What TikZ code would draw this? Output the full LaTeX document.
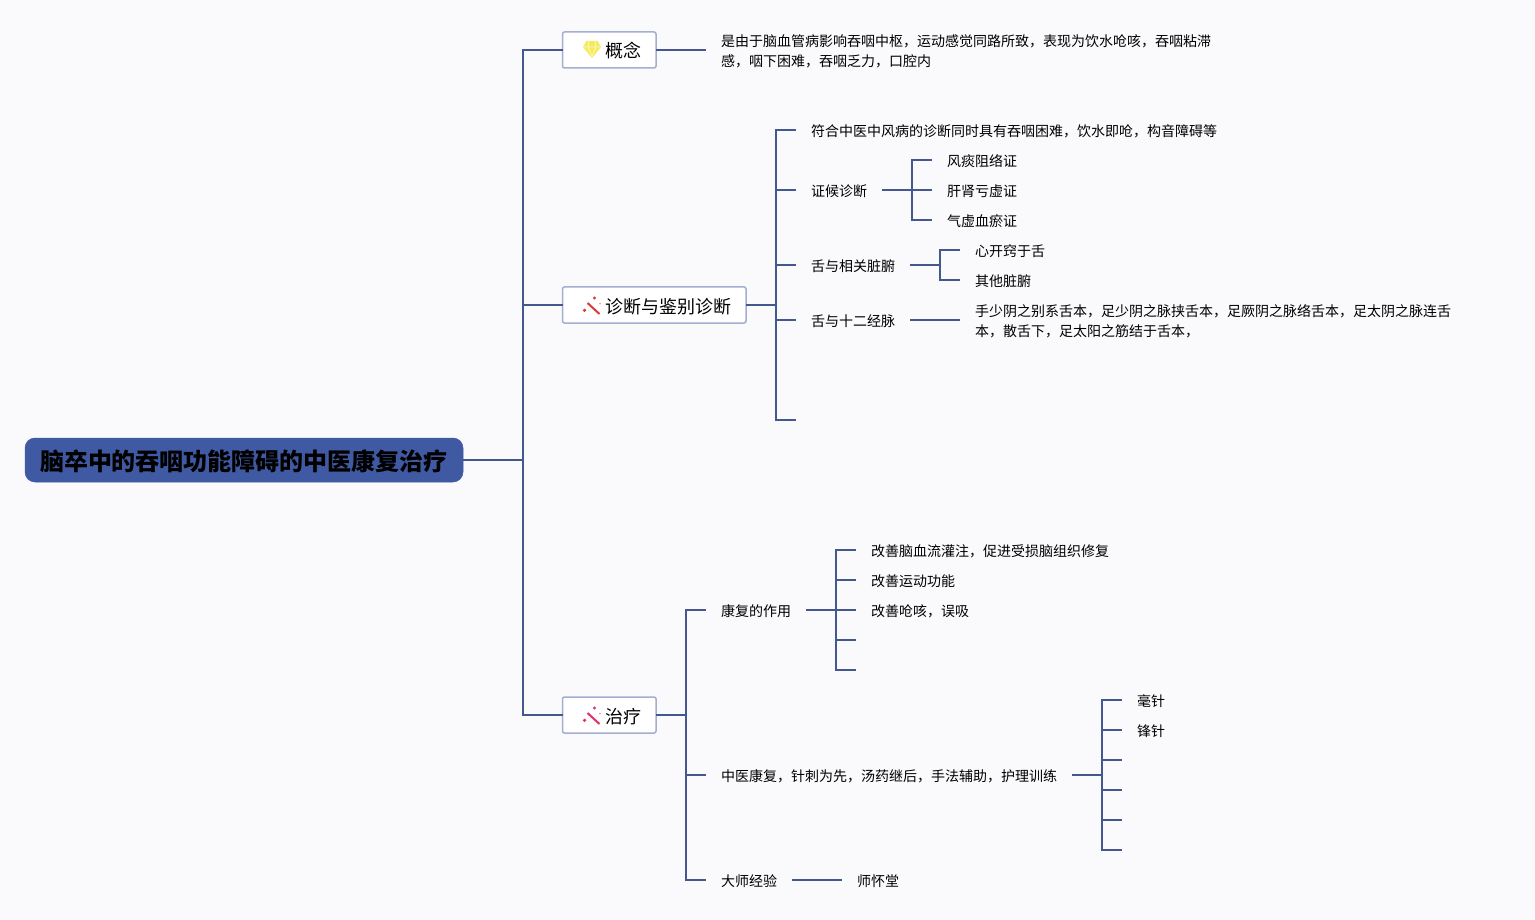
\documentclass[tikz,border=0pt]{standalone}
\usepackage{fontspec}
\setmainfont{Noto Sans CJK SC}
\usepackage{tikz}
\usetikzlibrary{positioning}
\usepackage{xcolor}
\definecolor{mapPaper}{HTML}{FAFAFC}
\definecolor{mapBlue}{HTML}{3F5AA3}
\definecolor{mapLine}{HTML}{42588F}
\definecolor{mapEdge}{HTML}{A3AED0}
\definecolor{gemYellow}{HTML}{F5EA5A}
\definecolor{gemLight}{HTML}{FBF6B4}
\definecolor{wandRed}{HTML}{D93A33}
\definecolor{wandPink}{HTML}{E62E66}
\newcommand{\gemicon}[1]{%
  \begin{scope}[shift={(#1.west)}]
    \fill[gemYellow] (24,-9) -- (35,-9) -- (38.5,-3) -- (29.5,8) -- (20.5,-3) -- cycle;
    \draw[gemLight, line width=1pt] (20.5,-3) -- (38.5,-3)
      (25.5,-3) -- (29.5,6) -- (33.5,-3) (26.5,-9) -- (25.5,-3) (32.5,-9) -- (33.5,-3);
  \end{scope}}
\newcommand{\wandicon}[2]{%
  \begin{scope}[shift={(#1.west)}, #2]
    \draw[line width=2pt] (25,-2) -- (37,9);
    \fill (22,5.3) circle (1.8);
    \fill (32,-7) circle (1.6);
    \fill[opacity=0.5] (37.5,-1.3) circle (1);
  \end{scope}}
\tikzset{
  rootbox/.style = {rounded corners=10pt, fill=mapBlue, draw=mapBlue, line width=0.5pt,
                    inner xsep=15pt, inner ysep=0pt, minimum height=44pt, outer sep=0pt,
                    execute at begin node={\rule[-3pt]{0pt}{27pt}},
                    font=\fontsize{24}{28}\selectfont\bfseries, text=black},
  topicbox/.style = {rounded corners=2pt, draw=mapEdge, line width=1.5pt, fill=white,
                    inner xsep=15pt, inner ysep=0pt, minimum height=36pt, outer sep=0pt,
                    execute at begin node={\rule[-2.5pt]{0pt}{21pt}},
                    font=\fontsize{18}{22}\selectfont},
  leaf/.style    = {inner xsep=15pt, inner ysep=0pt, outer sep=0pt, align=left,
                    execute at begin node={\rule[-2pt]{0pt}{16.5pt}},
                    font=\fontsize{14}{20}\selectfont},
  longleaf/.style = {leaf, execute at begin node={}, yshift=-2pt},
  link/.style    = {line width=2pt, draw=mapLine},
}

\begin{document}
\begin{tikzpicture}[x=1pt, y=-1pt]
  \useasboundingbox[fill=mapPaper] (0,0) rectangle (1535,920);

  \node[rootbox, anchor=west] (root) at (25,460) {脑卒中的吞咽功能障碍的中医康复治疗};
  \coordinate[right=60pt of root] (roothub);

  \node[topicbox, right=39.5pt of roothub, yshift=410pt] (concept) {\hspace*{27.5pt}概念};
  \node[topicbox, right=39.5pt of roothub, yshift=155pt] (diag) {\hspace*{27.5pt}诊断与鉴别诊断};
  \node[topicbox, right=39.5pt of roothub, yshift=-255pt] (treat) {\hspace*{27.5pt}治疗};
  \gemicon{concept}
  \wandicon{diag}{draw=wandRed, fill=wandRed}
  \wandicon{treat}{draw=wandPink, fill=wandPink}

  \draw[link] (root) -- (roothub);
  \foreach \t in {concept,diag,treat}
    \draw[link] (roothub) |- (\t);

  % concept
  \node[longleaf, right=50pt of concept] (def)
    {是由于脑血管病影响吞咽中枢，运动感觉同路所致，表现为饮水呛咳，吞咽粘滞\\感，咽下困难，吞咽乏力，口腔内};
  \draw[link] (concept) -- (concept -| def.west);

  % diagnosis
  \coordinate[right=30pt of diag] (diaghub);
  \node[leaf, right=20pt of diaghub, yshift=175pt] (d1) {符合中医中风病的诊断同时具有吞咽困难，饮水即呛，构音障碍等};
  \node[leaf, right=20pt of diaghub, yshift=115pt] (d2) {证候诊断};
  \node[leaf, right=20pt of diaghub, yshift=40pt] (d3) {舌与相关脏腑};
  \node[leaf, right=20pt of diaghub, yshift=-15pt] (d4) {舌与十二经脉};
  \coordinate[right=20pt of diaghub, yshift=-115pt] (d5);
  \draw[link] (diag) -- (diaghub);
  \foreach \t in {d1,d2,d3,d4,d5}
    \draw[link] (diaghub) |- (\t);

  \coordinate[right=30pt of d2] (d2hub);
  \node[leaf, right=50pt of d2, yshift=30pt] (s1) {风痰阻络证};
  \node[leaf, right=50pt of d2] (s2) {肝肾亏虚证};
  \node[leaf, right=50pt of d2, yshift=-30pt] (s3) {气虚血瘀证};
  \draw[link] (d2) -- (s2);
  \foreach \t in {s1,s3}
    \draw[link] (d2hub) |- (\t);

  \coordinate[right=30pt of d3] (d3hub);
  \node[leaf, right=50pt of d3, yshift=15pt] (t1) {心开窍于舌};
  \node[leaf, right=50pt of d3, yshift=-15pt] (t2) {其他脏腑};
  \draw[link] (d3) -- (d3hub);
  \foreach \t in {t1,t2}
    \draw[link] (d3hub) |- (\t);

  \node[longleaf, right=50pt of d4] (m1)
    {手少阴之别系舌本，足少阴之脉挟舌本，足厥阴之脉络舌本，足太阴之脉连舌\\本，散舌下，足太阳之筋结于舌本，};
  \draw[link] (d4) -- (d4 -| m1.west);

  % treatment
  \coordinate[right=30pt of treat] (treathub);
  \node[leaf, right=20pt of treathub, yshift=105pt] (r1) {康复的作用};
  \node[leaf, right=20pt of treathub, yshift=-60pt] (r2) {中医康复，针刺为先，汤药继后，手法辅助，护理训练};
  \node[leaf, right=20pt of treathub, yshift=-165pt] (r3) {大师经验};
  \draw[link] (treat) -- (treathub);
  \foreach \t in {r1,r2,r3}
    \draw[link] (treathub) |- (\t);

  \coordinate[right=30pt of r1] (r1hub);
  \node[leaf, right=50pt of r1, yshift=60pt] (e1) {改善脑血流灌注，促进受损脑组织修复};
  \node[leaf, right=50pt of r1, yshift=30pt] (e2) {改善运动功能};
  \node[leaf, right=50pt of r1] (e3) {改善呛咳，误吸};
  \coordinate[right=50pt of r1, yshift=-30pt] (e4);
  \coordinate[right=50pt of r1, yshift=-60pt] (e5);
  \draw[link] (r1) -- (e3);
  \foreach \t in {e1,e2,e4,e5}
    \draw[link] (r1hub) |- (\t);

  \coordinate[right=30pt of r2] (r2hub);
  \node[leaf, right=50pt of r2, yshift=75pt] (n1) {毫针};
  \node[leaf, right=50pt of r2, yshift=45pt] (n2) {锋针};
  \coordinate[right=50pt of r2, yshift=15pt] (n3);
  \coordinate[right=50pt of r2, yshift=-15pt] (n4);
  \coordinate[right=50pt of r2, yshift=-45pt] (n5);
  \coordinate[right=50pt of r2, yshift=-75pt] (n6);
  \draw[link] (r2) -- (r2hub);
  \foreach \t in {n1,n2,n3,n4,n5,n6}
    \draw[link] (r2hub) |- (\t);

  \node[leaf, right=50pt of r3] (master) {师怀堂};
  \draw[link] (r3) -- (master);
\end{tikzpicture}
\end{document}
